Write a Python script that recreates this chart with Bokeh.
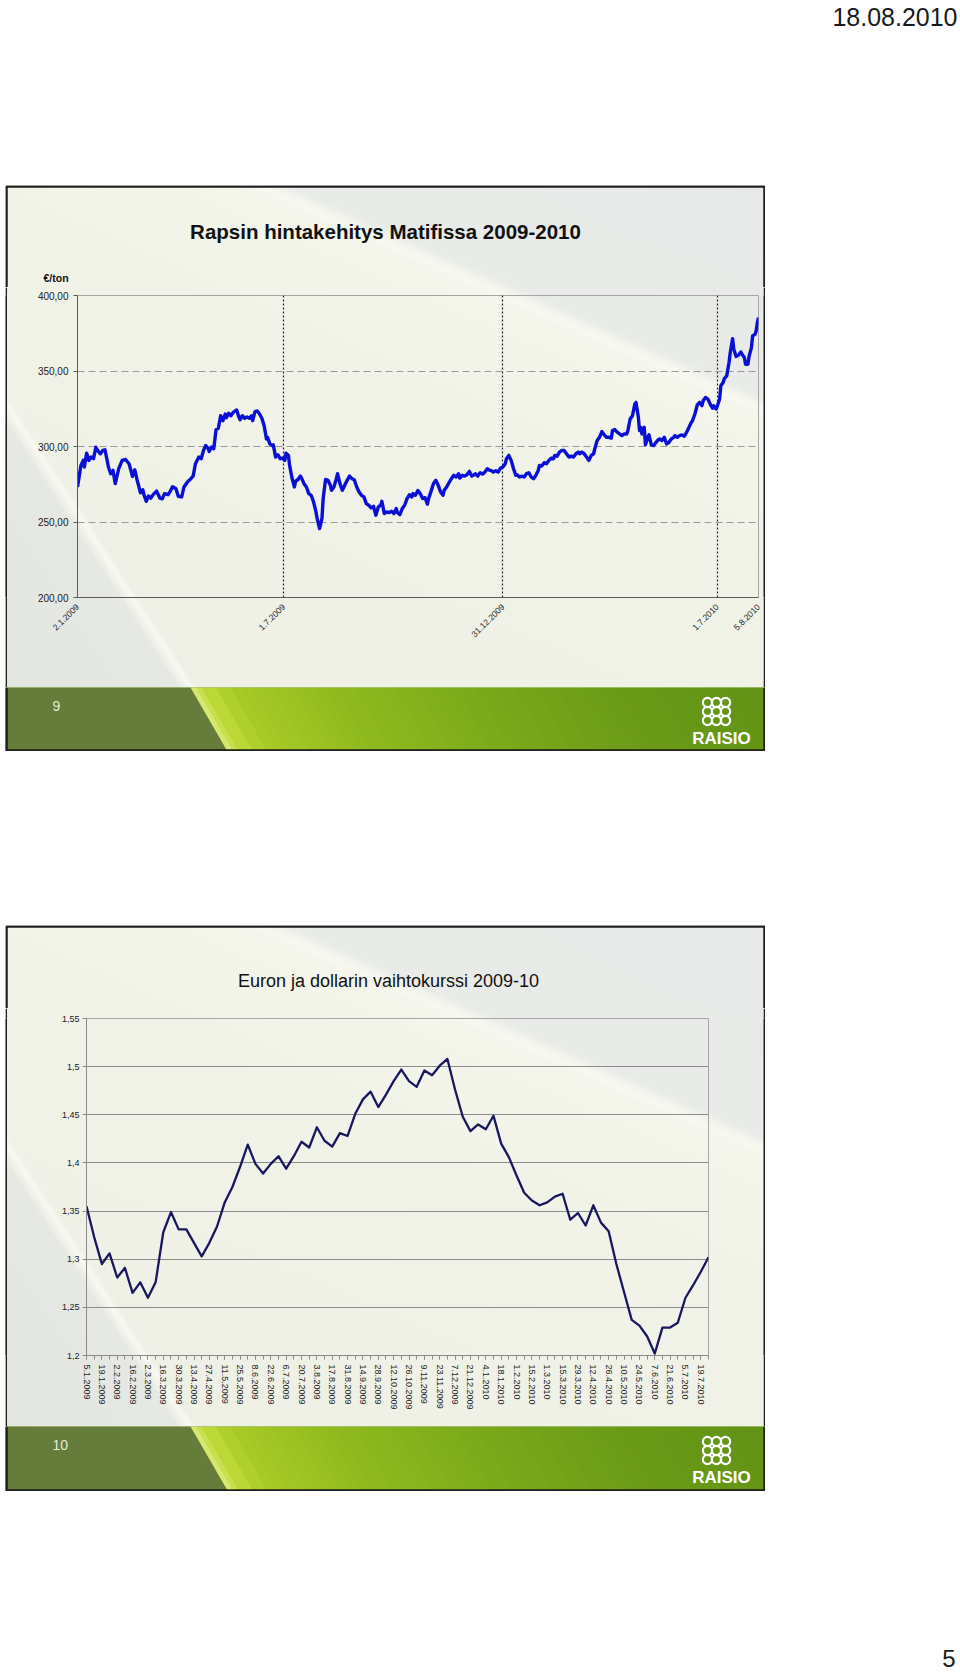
from math import pi
import numpy as np
from bokeh.plotting import figure
from bokeh.layouts import column, row
from bokeh.models import Range1d, FixedTicker, Spacer
from bokeh.core.properties import value
from bokeh.embed import file_html
from bokeh.resources import INLINE

# ---------------- data: rapeseed price (Matif), calendar day offset from 2.1.2009 ----------------
rapeseed_days = [
    0, 3, 5, 6, 8, 10, 12, 14, 16, 18, 20, 22, 24, 25, 27, 29, 31, 33, 34, 36,
    39, 42, 45, 47, 48, 50, 52, 55, 57, 58, 60, 62, 64, 66, 69, 72, 74, 76, 79, 81,
    83, 86, 88, 91, 93, 96, 99, 101, 103, 106, 108, 110, 112, 114, 115, 117, 119, 121, 123, 125,
    127, 129, 130, 132, 134, 136, 139, 141, 142, 144, 146, 148, 150, 152, 153, 155, 157, 159, 161, 163,
    165, 166, 168, 170, 171, 173, 175, 177, 179,
    181, 182, 184, 185, 187, 189, 190, 192, 194, 195, 197, 199, 201, 203, 205, 207, 208, 210, 212, 213,
    215, 217, 219, 220, 222, 224, 225, 227, 229, 231, 233, 235, 237, 239, 241, 243, 245, 247, 249, 251,
    253, 255, 257, 259, 261, 262, 264, 266, 268, 270, 272, 274, 275, 277, 279, 281, 283, 285, 287, 288,
    290, 292, 294, 296, 298, 300, 301, 303, 305, 307, 309, 311, 313, 314, 316, 318, 320, 322, 324, 326,
    327, 329, 331, 333, 335, 337, 339, 340, 342, 344, 346, 348, 350, 352, 353, 355, 357, 359, 361, 363,
    365, 366, 368, 370, 372, 374, 375, 377, 379, 381, 383, 385, 387, 389, 391, 393, 394, 396, 398, 400,
    402, 404, 406, 407, 409, 411, 413, 415, 417, 419, 421, 423, 425, 427, 428, 430, 432, 434, 436, 438,
    440, 441, 443, 445, 447, 449, 451, 453, 455, 456, 458, 460, 462, 464, 466, 468, 469, 471, 473, 475,
    476, 478, 479, 480, 481, 483, 484, 486, 487, 489, 491, 493, 495, 496, 498, 500, 502, 504, 506, 508,
    509, 511, 513, 515, 517, 519, 521, 523, 524, 526, 528, 530, 532, 533, 535, 537, 539, 541, 542, 544,
    545, 547, 548, 550, 551, 553, 555, 556, 558, 559, 561, 563, 565, 566, 568, 569, 571, 572, 574, 575,
    577, 578, 579, 580,
]
rapeseed_price = [
    273.2, 287.5, 290.8, 286.4, 295.6, 290.8, 293.0, 291.9, 299.5, 296.9, 295.2, 297.4, 297.8, 294.1, 286.4, 282.0, 284.2, 275.4, 278.7, 285.3,
    290.8, 291.4, 288.6, 283.1, 280.2, 284.6, 278.0, 269.4, 271.4, 268.1, 263.7, 267.2, 265.8, 268.1, 270.5, 265.8, 265.4, 268.8, 268.1, 270.3,
    273.4, 272.0, 267.0, 266.6, 273.2, 276.5, 278.7, 280.4, 288.6, 293.0, 291.9, 297.4, 300.6, 298.9, 296.7, 299.6, 298.5, 311.2, 312.1, 320.4,
    317.1, 321.5, 319.1, 322.0, 320.4, 322.6, 324.2, 319.3, 317.8, 320.4, 318.7, 319.6, 318.7, 320.4, 317.1, 323.1, 323.5, 321.5, 318.7, 313.8,
    305.0, 306.1, 301.7, 300.6, 301.1, 293.0, 294.5, 291.9, 292.3,
    290.8, 295.6, 294.1, 287.5, 279.1, 273.2, 276.9, 278.2, 280.4, 279.1, 275.4, 273.2, 268.8, 267.7, 263.3, 256.7, 252.3, 245.7, 252.3, 265.5,
    278.2, 277.6, 274.3, 271.0, 273.2, 278.7, 282.0, 275.4, 271.0, 274.3, 277.6, 280.4, 278.7, 278.0, 273.2, 269.9, 267.7, 266.6, 262.2, 261.1,
    259.3, 260.4, 254.5, 260.0, 261.1, 263.7, 255.6, 256.7, 256.2, 257.1, 255.6, 258.9, 256.2, 254.9, 258.9, 261.1, 265.5, 268.1, 266.6, 268.8,
    267.7, 270.8, 268.8, 265.5, 266.1, 261.8, 265.5, 270.3, 275.4, 277.6, 274.3, 269.9, 267.7, 271.0, 273.2, 276.0, 278.7, 280.9, 279.8, 282.0,
    279.1, 280.9, 280.4, 281.3, 283.5, 280.4, 281.3, 282.0, 280.4, 282.6, 281.7, 283.1, 285.3, 284.2, 284.2, 283.1, 284.0, 283.1, 285.7, 286.4,
    288.6, 291.9, 294.1, 290.8, 285.3, 280.9, 281.3, 279.8, 280.4, 279.8, 282.0, 282.6, 279.8, 278.7, 280.9, 284.2, 287.5, 287.1, 289.3, 288.6,
    290.8, 292.3, 291.9, 294.1, 293.6, 296.3, 297.4, 297.4, 295.2, 293.0, 293.6, 293.0, 295.2, 296.3, 295.2, 296.3, 295.2, 293.0, 290.8, 294.1,
    295.2, 298.5, 304.0, 306.1, 309.9, 307.7, 306.1, 306.1, 305.5, 310.5, 311.2, 309.5, 308.3, 307.2, 308.3, 308.3, 310.1, 318.2, 320.4, 328.1,
    329.2, 319.3, 310.5, 312.7, 308.3, 312.7, 301.1, 306.1, 307.7, 301.1, 300.6, 302.8, 304.6, 305.0, 303.9, 306.1, 301.7, 302.8, 305.0, 306.1,
    307.2, 306.1, 307.2, 307.7, 306.8, 309.5, 312.7, 316.0, 317.1, 321.5, 327.5, 329.2, 327.0, 330.3, 332.5, 331.4, 328.1, 325.3, 327.0, 324.8,
    326.6, 331.4, 340.2, 342.4, 345.0, 346.8, 355.6, 362.2, 371.4, 364.4, 359.6, 360.5, 362.6, 361.1, 358.9, 354.5, 354.5, 359.8, 365.5, 373.2,
    374.3, 376.5, 382.0, 385.3,
]
# labelled dates: calendar day offset and trading-session index (category axis of sessions)
rapeseed_tick_days = [0, 180, 363, 545, 580]
rapeseed_tick_sessions = [0, 125, 258, 388, 413]
rapeseed_tick_labels = ["2.1.2009", "1.7.2009", "31.12.2009", "1.7.2010", "5.8.2010"]
rapeseed_yticks = [200, 250, 300, 350, 400]
rapeseed_ylabels = ["200,00", "250,00", "300,00", "350,00", "400,00"]

# ---------------- data: EUR/USD weekly ----------------
fx_rate = [
    1.355, 1.323, 1.295, 1.306, 1.281, 1.291, 1.265, 1.276, 1.260, 1.276,
    1.328, 1.349, 1.331, 1.331, 1.317, 1.303, 1.317, 1.334, 1.359, 1.375,
    1.396, 1.419, 1.399, 1.389, 1.399, 1.407, 1.394, 1.407, 1.422, 1.416,
    1.437, 1.423, 1.417, 1.431, 1.428, 1.451, 1.466, 1.474, 1.458, 1.471,
    1.485, 1.497, 1.485, 1.479, 1.496, 1.491, 1.501, 1.508, 1.476, 1.448,
    1.433, 1.440, 1.435, 1.449, 1.420, 1.406, 1.387, 1.369, 1.361, 1.356,
    1.359, 1.365, 1.368, 1.341, 1.348, 1.335, 1.356, 1.338, 1.329, 1.295,
    1.266, 1.237, 1.231, 1.220, 1.202, 1.229, 1.229, 1.234, 1.260, 1.273,
    1.287, 1.302,
]
fx_labels = [
    "5.1.2009", "19.1.2009", "2.2.2009", "16.2.2009", "2.3.2009", "16.3.2009", "30.3.2009", "13.4.2009",
    "27.4.2009", "11.5.2009", "25.5.2009", "8.6.2009", "22.6.2009", "6.7.2009", "20.7.2009", "3.8.2009",
    "17.8.2009", "31.8.2009", "14.9.2009", "28.9.2009", "12.10.2009", "26.10.2009", "9.11.2009", "23.11.2009",
    "7.12.2009", "21.12.2009", "4.1.2010", "18.1.2010", "1.2.2010", "15.2.2010", "1.3.2010", "15.3.2010",
    "29.3.2010", "12.4.2010", "26.4.2010", "10.5.2010", "24.5.2010", "7.6.2010", "21.6.2010", "5.7.2010",
    "19.7.2010",
]
fx_yticks = [1.2, 1.25, 1.3, 1.35, 1.4, 1.45, 1.5, 1.55]
fx_ylabels = ["1,2", "1,25", "1,3", "1,35", "1,4", "1,45", "1,5", "1,55"]

# ---------------- styling ----------------
BORDER = "#1e1e1e"
FONT = "Liberation Sans"
SLIDE_CSS = {
    "background-color": "#eef0e7",
    "background-image": (
        "linear-gradient(237deg, rgba(0,0,0,0) 0%, rgba(0,0,0,0) 79.3%, #f8faf1 79.9%, "
        "#e6e8e3 81%, #e3e5e1 100%), "
        "linear-gradient(24deg, #edefe5 0%, #f1f3e9 60%, #f4f6ec 74%, #f7f9f0 75%, "
        "#e9ebe8 76.5%, #e7e9e8 100%)"
    ),
}


def blank(w, h, bg="white"):
    p = figure(width=w, height=h, x_range=Range1d(0, w), y_range=Range1d(h, 0),
               toolbar_location=None, output_backend="svg",
               x_axis_location=None, y_axis_location=None,
               min_border=0, min_border_left=0, min_border_right=0,
               min_border_top=0, min_border_bottom=0,
               background_fill_color=bg, border_fill_color=bg, outline_line_color=None)
    p.grid.visible = False
    return p


def bar(h):
    return blank(2, h, bg=BORDER)


def title_fig(h, title, tx, ty, size, style, extra=None):
    p = blank(760, h, bg=None)
    p.line([1, 1, 759, 759], [h, 1, 1, h], line_color=BORDER, line_width=2.5)
    p.text(x=[tx], y=[ty], text=[title], text_font=value(FONT), text_font_size=size,
           text_font_style=style, text_align="center", text_baseline="middle", text_color="#111111")
    if extra:
        ex, ey, etxt = extra
        p.text(x=[ex], y=[ey], text=[etxt], text_font=value(FONT), text_font_size="10.5px",
               text_font_style="bold", text_align="left", text_baseline="middle", text_color="#111111")
    return p


def _mix(c1, c2, t):
    a = [int(c1[i:i + 2], 16) for i in (1, 3, 5)]
    b = [int(c2[i:i + 2], 16) for i in (1, 3, 5)]
    return "#%02x%02x%02x" % tuple(int(round(a[k] + (b[k] - a[k]) * t)) for k in range(3))


def band_fig(h, num):
    p = blank(760, h, bg="#679716")
    sh = 37 * h / 64.0
    stops = [(185, "#dcec80"), (196, "#c2dc3c"), (225, "#a9cb27"), (330, "#8fba1e"),
             (470, "#7aa91a"), (620, "#6a9a17"), (800, "#5f9015")]
    xs, ys, cs = [[0, 185, 185 + sh, 0]], [[0, 0, h, h]], ["#657c3b"]
    for k in range(len(stops) - 1):
        (x0, c0), (x1, c1) = stops[k], stops[k + 1]
        n = max(2, int((x1 - x0) / 10))
        for j in range(n):
            a = x0 + (x1 - x0) * j / n
            b = x0 + (x1 - x0) * (j + 1) / n
            xs.append([a, b + 0.6, b + 0.6 + sh, a + sh])
            ys.append([0, 0, h, h])
            cs.append(_mix(c0, c1, (j + 0.5) / n))
    p.patches(xs=xs, ys=ys, fill_color=cs, line_color=None)
    p.line([1, 1, 759, 759], [0, h - 1, h - 1, 0], line_color=BORDER, line_width=2.5)
    p.text(x=[47], y=[18], text=[num], text_font=value(FONT), text_font_size="14px",
           text_align="left", text_baseline="middle", text_color="#e6ecd4")
    gx = [702, 711, 720] * 3
    gy = [15] * 3 + [24] * 3 + [33] * 3
    p.circle(x=gx, y=gy, radius=4.6, fill_color=None, line_color="white", line_width=2.2)
    p.text(x=[716], y=[51], text=["RAISIO"], text_font=value(FONT), text_font_size="17px",
           text_font_style="bold", text_align="center", text_baseline="middle", text_color="white")
    return p


# ---------------- header ----------------
header = blank(960, 185)
header.text(x=[957], y=[16], text=["18.08.2010"], text_font=value(FONT),
            text_font_size="25px", text_align="right", text_baseline="middle", text_color="#1a1a1a")

# ---------------- slide 1: rapeseed ----------------
t1 = title_fig(102, "Rapsin hintakehitys Matifissa 2009-2010", 380, 46, "20.5px", "bold",
               extra=(38, 92, "€/ton"))

# position of each quote on the trading-session axis
rapeseed_x = np.interp(rapeseed_days, rapeseed_tick_days, rapeseed_tick_sessions)

c1 = figure(width=756, height=400, x_range=Range1d(0, rapeseed_tick_sessions[-1]),
            y_range=Range1d(200, 400),
            toolbar_location=None, output_backend="svg",
            min_border_left=70, min_border_right=5, min_border_top=8, min_border_bottom=90,
            background_fill_color=None, border_fill_color=None,
            outline_line_color="#a6a6a6")
c1.line(rapeseed_x, rapeseed_price, line_color="#0a0fd4", line_width=3.4, line_join="round")
c1.xgrid.ticker = FixedTicker(ticks=rapeseed_tick_sessions[1:-1])
c1.xgrid.grid_line_color = "#222222"
c1.xgrid.grid_line_dash = "2 2"
c1.xgrid.grid_line_width = 1.2
c1.ygrid.ticker = FixedTicker(ticks=[250, 300, 350])
c1.ygrid.grid_line_color = "#9a9a9a"
c1.ygrid.grid_line_dash = "7 4"
c1.xaxis.ticker = FixedTicker(ticks=rapeseed_tick_sessions)
c1.xaxis.major_label_overrides = dict(zip(rapeseed_tick_sessions, rapeseed_tick_labels))
c1.xaxis.major_label_orientation = pi / 4
c1.xaxis.major_tick_out = 0
c1.xaxis.major_tick_in = 0
c1.xaxis.major_label_standoff = 8
c1.xaxis.major_label_text_font_size = "8.5px"
c1.yaxis.ticker = FixedTicker(ticks=rapeseed_yticks)
c1.yaxis.major_label_overrides = dict(zip(rapeseed_yticks, rapeseed_ylabels))
c1.yaxis.major_tick_out = 4
c1.yaxis.major_tick_in = 0
c1.yaxis.major_label_standoff = 5
c1.yaxis.major_label_text_font_size = "10px"
for ax in (c1.xaxis, c1.yaxis):
    ax.axis_line_color = "#5a5a5a"
    ax.major_tick_line_color = "#5a5a5a"
    ax.minor_tick_line_color = None
    ax.major_label_text_font = FONT
    ax.major_label_text_color = "#222222"

b1 = band_fig(64, "9")
slide1 = column(t1, row(bar(400), c1, bar(400)), b1, styles=SLIDE_CSS)

# ---------------- slide 2: EUR/USD ----------------
t2 = title_fig(83, "Euron ja dollarin vaihtokurssi 2009-10", 383, 55, "18px", "normal")

fx_x = list(range(len(fx_rate)))
c2 = figure(width=756, height=418, x_range=Range1d(0, len(fx_rate) - 1), y_range=Range1d(1.2, 1.55),
            toolbar_location=None, output_backend="svg",
            min_border_left=79, min_border_right=55, min_border_top=10, min_border_bottom=71,
            background_fill_color=None, border_fill_color=None,
            outline_line_color="#a6a6a6")
c2.line(fx_x, fx_rate, line_color="#17175e", line_width=2.3, line_join="round")
c2.xgrid.visible = False
c2.ygrid.ticker = FixedTicker(ticks=fx_yticks[1:-1])
c2.ygrid.grid_line_color = "#8c8c8c"
c2.ygrid.grid_line_width = 1
label_idx = list(range(0, len(fx_rate), 2))[:len(fx_labels)]
c2.xaxis.ticker = FixedTicker(ticks=label_idx, minor_ticks=fx_x)
c2.xaxis.major_label_overrides = dict(zip(label_idx, fx_labels))
c2.xaxis.major_label_orientation = "vertical"
c2.xaxis.major_tick_out = 4
c2.xaxis.major_tick_in = 0
c2.xaxis.minor_tick_out = 4
c2.xaxis.minor_tick_in = 0
c2.xaxis.major_label_standoff = 5
c2.xaxis.major_label_text_font_size = "9px"
c2.yaxis.ticker = FixedTicker(ticks=fx_yticks)
c2.yaxis.major_label_overrides = dict(zip(fx_yticks, fx_ylabels))
c2.yaxis.major_tick_out = 4
c2.yaxis.major_tick_in = 0
c2.yaxis.minor_tick_line_color = None
c2.yaxis.major_label_standoff = 3
c2.yaxis.major_label_text_font_size = "9px"
for ax in (c2.xaxis, c2.yaxis):
    ax.axis_line_color = "#8a8a8a"
    ax.major_tick_line_color = "#8a8a8a"
    ax.major_label_text_font = FONT
    ax.major_label_text_color = "#222222"
c2.xaxis.minor_tick_line_color = "#8a8a8a"

b2 = band_fig(65, "10")
slide2 = column(t2, row(bar(418), c2, bar(418)), b2, styles=SLIDE_CSS)

# ---------------- footer ----------------
footer = blank(960, 185)
footer.text(x=[955], y=[167], text=["5"], text_font=value(FONT), text_font_size="24px",
            text_align="right", text_baseline="middle", text_color="#1a1a1a")

page = column(
    header,
    row(Spacer(width=5, height=566), slide1, Spacer(width=195, height=566)),
    Spacer(width=960, height=174),
    row(Spacer(width=5, height=566), slide2, Spacer(width=195, height=566)),
    footer,
)

open("out.html", "w").write(file_html(page, INLINE))
